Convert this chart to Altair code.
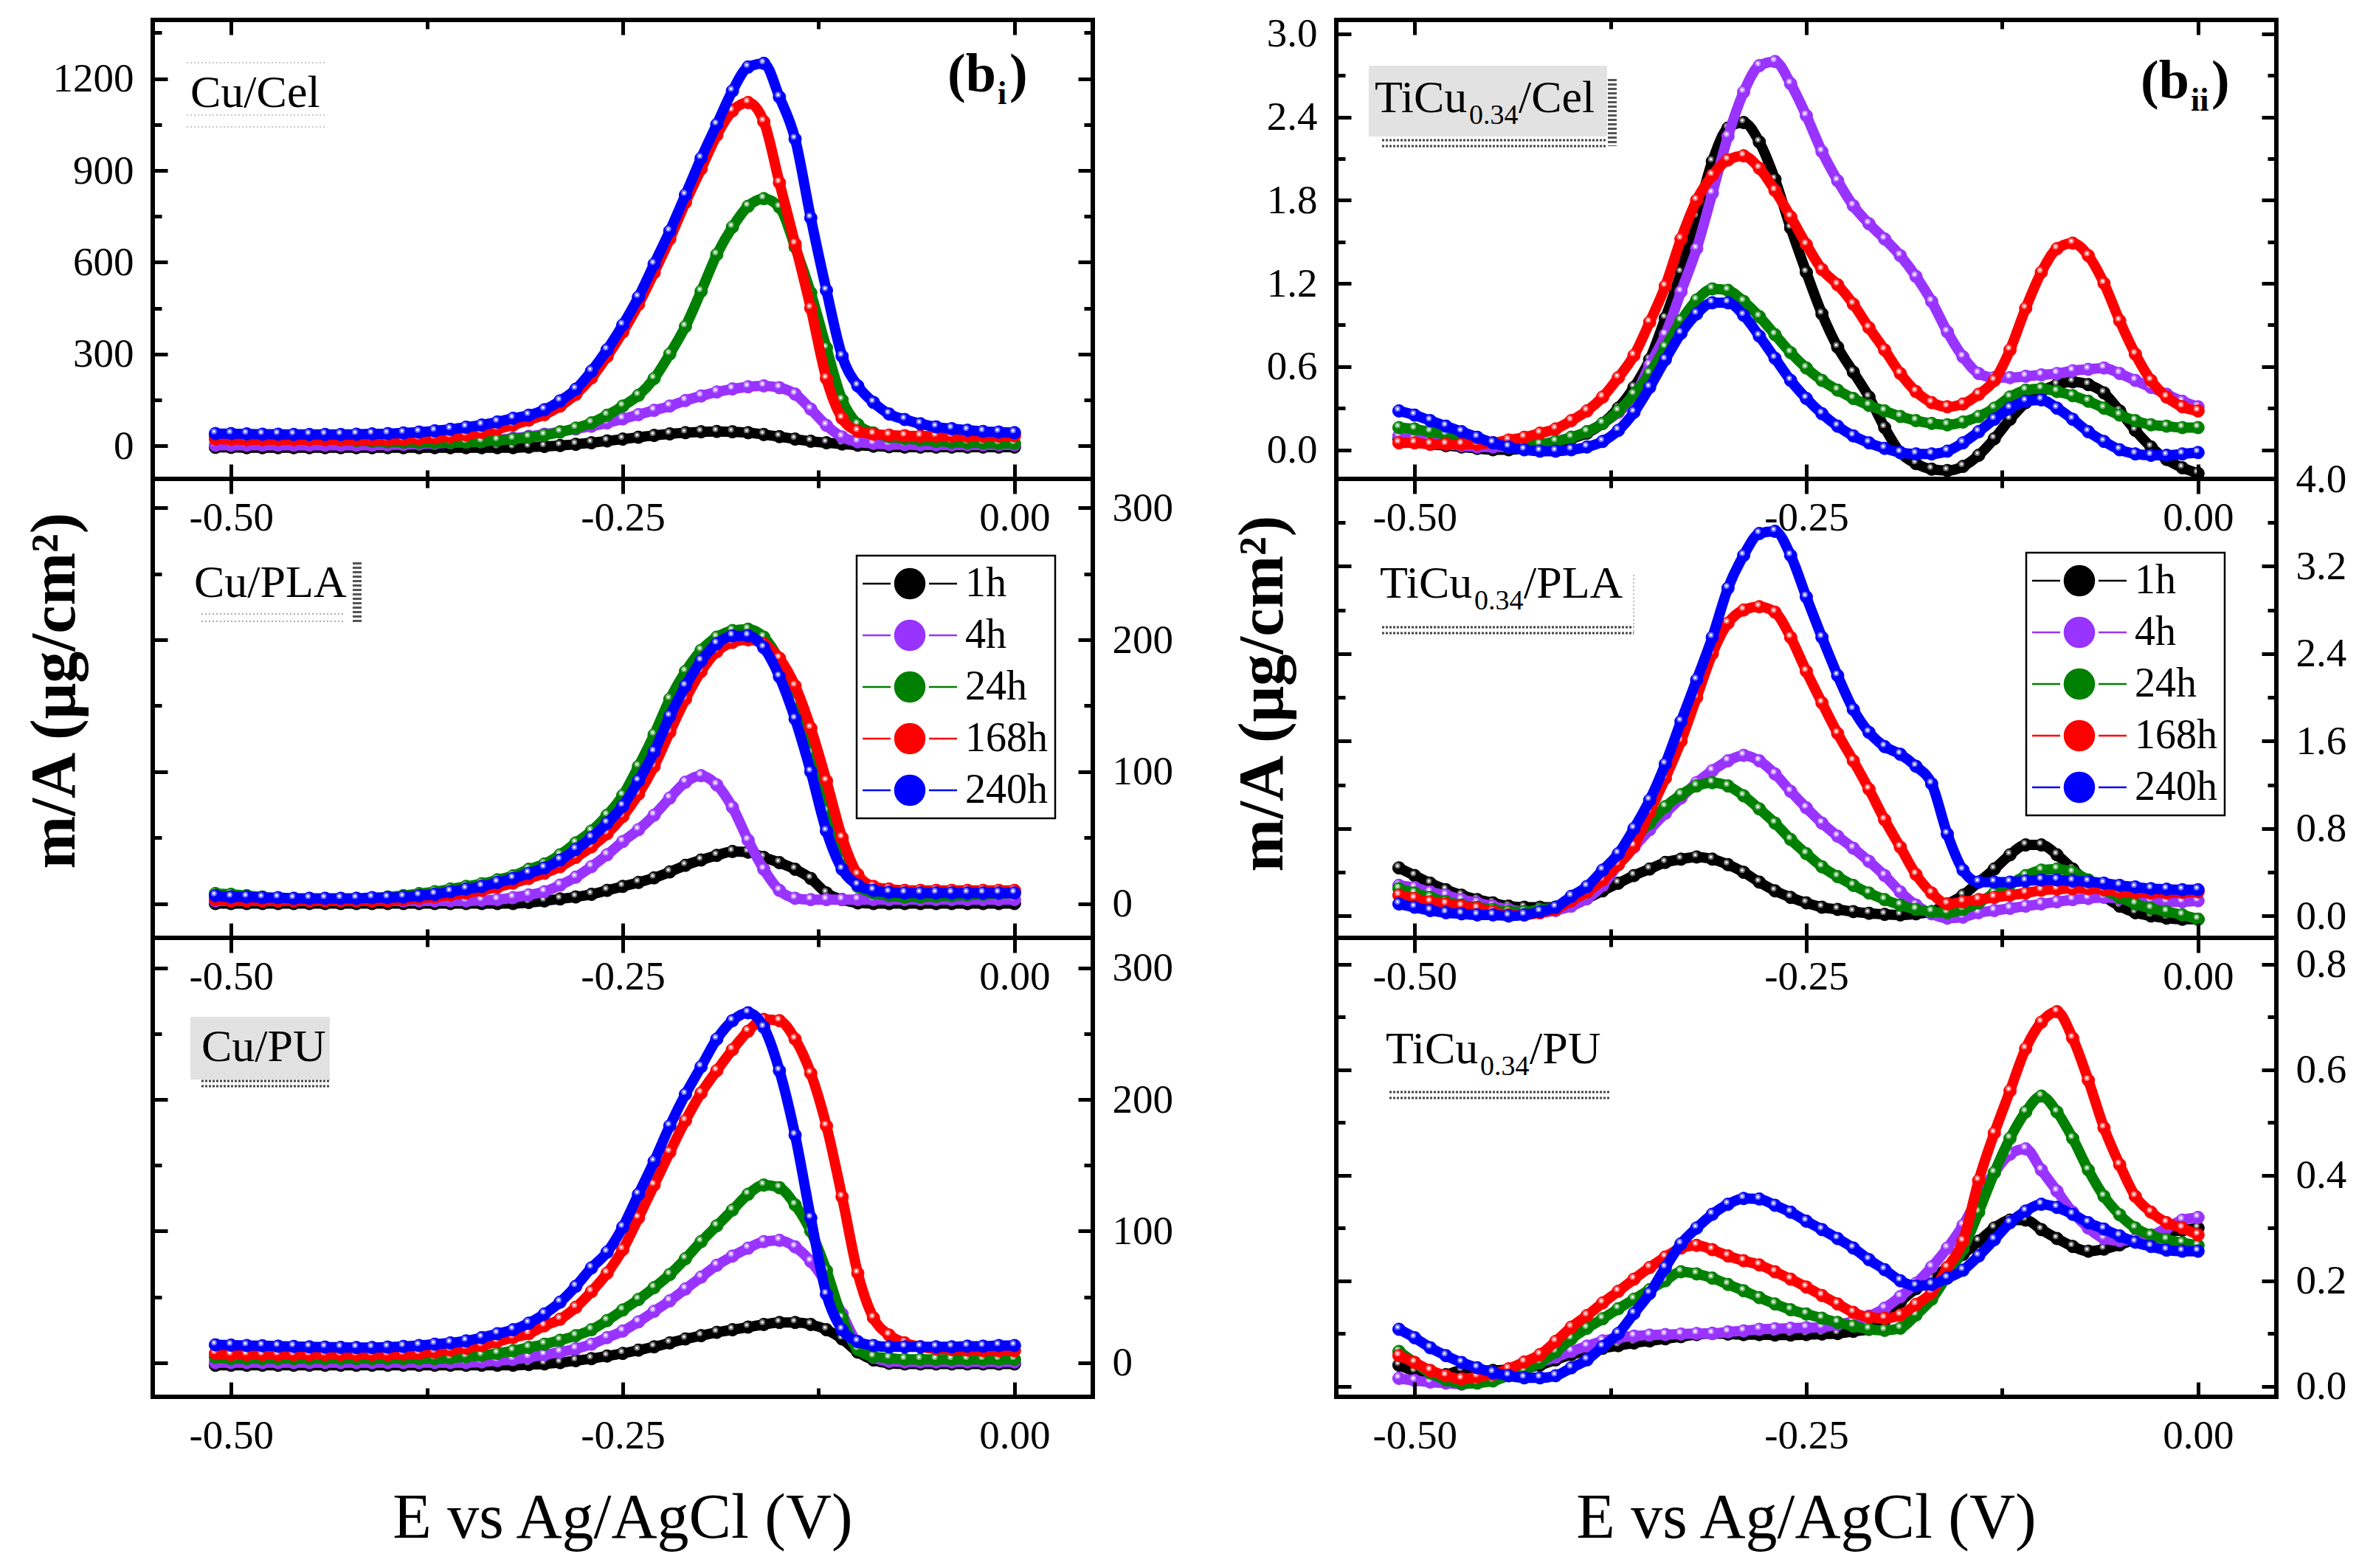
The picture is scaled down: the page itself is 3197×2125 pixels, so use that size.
import altair as alt
import pandas as pd

SERIF = "Liberation Serif"
W, H = 1274, 622

# potential (V vs Ag/AgCl), shared by every series
E = [-0.51, -0.50, -0.49, -0.48, -0.47, -0.46, -0.45, -0.44, -0.43, -0.42, -0.41, -0.40, -0.39,
     -0.38, -0.37, -0.36, -0.35, -0.34, -0.33, -0.32, -0.31, -0.30, -0.29, -0.28, -0.27, -0.26,
     -0.25, -0.24, -0.23, -0.22, -0.21, -0.20, -0.19, -0.18, -0.17, -0.16, -0.15, -0.14, -0.13,
     -0.12, -0.11, -0.10, -0.09, -0.08, -0.07, -0.06, -0.05, -0.04, -0.03, -0.02, -0.01, 0.00]

HOURS = ["1h", "4h", "24h", "168h", "240h"]
COLORS = ["#000000", "#9933ff", "#008000", "#ff0000", "#0000ff"]

# ---- Cu/Cel (ug/cm2)
CU_CEL_1H = [-5, -5, -6, -6, -6, -6, -6, -6, -6, -6, -6, -6, -6,
             -6, -6, -6, -6, -6, -6, -6, -4, -2, 1, 5, 10, 16,
             22, 28, 34, 39, 43, 46, 47, 46, 43, 37, 30, 22, 15,
             10, 6, 2, -1, -3, -4, -4, -4, -4, -4, -4, -4, -4]
CU_CEL_4H = [2, 2, 2, 2, 2, 2, 2, 2, 2, 2, 2, 3, 4,
             6, 8, 10, 13, 16, 20, 25, 31, 38, 46, 55, 64, 75,
             88, 102, 116, 130, 148, 163, 176, 186, 193, 196, 190, 169, 120,
             67, 29, 13, 8, 5, 4, 3, 3, 3, 3, 3, 3, 3]
CU_CEL_24H = [35, 33, 31, 29, 27, 25, 23, 21, 19, 17, 15, 13, 12,
              11, 11, 11, 12, 14, 18, 22, 28, 35, 45, 58, 75, 100,
              130, 165, 220, 300, 390, 505, 625, 715, 783, 808, 780, 650, 500,
              320, 150, 70, 42, 30, 24, 19, 15, 12, 10, 9, 8, 8]
CU_CEL_168H = [22, 21, 20, 20, 20, 20, 20, 20, 20, 20, 20, 20, 21,
               23, 26, 30, 36, 44, 55, 68, 84, 102, 130, 168, 222, 292,
               372, 462, 566, 676, 795, 905, 1015, 1095, 1122, 1060, 860, 660, 450,
               220, 90, 48, 38, 35, 33, 32, 32, 32, 32, 32, 32, 33]
CU_CEL_240H = [40, 40, 39, 38, 38, 37, 37, 37, 37, 38, 39, 40, 42,
               45, 49, 54, 61, 68, 78, 90, 100, 118, 147, 185, 244, 314,
               395, 486, 594, 702, 820, 940, 1050, 1160, 1238, 1250, 1140, 1003, 745,
               508, 293, 196, 142, 104, 86, 72, 62, 56, 51, 47, 45, 43]

# ---- Cu/PLA
CU_PLA_1H = [0, 0, 0, 0, 0, 0, 0, 0, 0, 0, 0, 0, 0,
             0, 0, 0, 0, 0, 0, 0, 0.8, 2, 3.5, 5, 7, 10,
             13, 16, 19.5, 24, 29, 33, 36.5, 39.5, 39, 35, 31, 26, 19,
             8, 3, 0.5, 0, 0, 0, 0, 0, 0, 0, 0, 0, 0]
CU_PLA_4H = [2, 2, 2, 2, 2, 2, 2, 2, 2, 2, 2, 2, 2,
             2, 2, 2, 2, 2.5, 3, 4.5, 6.5, 9, 14, 20, 28, 37,
             47, 56, 67, 80, 92, 97, 90, 73, 48, 26, 10, 4, 3,
             3, 3, 3, 3, 3, 3, 3, 3, 3, 3, 3, 3, 3]
CU_PLA_24H = [7.6, 7, 6, 5, 4, 3.5, 3, 3, 3, 3.5, 4, 5, 6,
              7.5, 9, 11, 13, 15, 18, 21, 26, 30, 37, 46, 55, 67,
              82, 104, 128, 155, 176, 192, 202, 207, 208, 202, 184, 152, 114,
              70, 32, 13, 8, 6, 5, 5, 5.5, 6, 6.5, 7, 7.5, 8]
CU_PLA_168H = [3, 2, 2, 2, 2, 2, 2, 2, 2, 2, 2, 2, 3,
               4, 5, 6.5, 8, 10, 12.5, 15.5, 19, 23, 28, 35, 43, 53,
               66, 83, 104, 130, 155, 176, 191, 198, 200, 197, 186, 165, 133,
               93, 50, 22, 13, 11, 10, 10, 10, 10, 10, 10, 10, 10]
CU_PLA_240H = [6, 5, 5, 4.5, 4.5, 4, 4, 4, 4, 4, 4.5, 4.5, 5,
               6, 7, 9, 11, 13, 16, 19, 23, 27, 33, 41, 50, 61,
               74, 93, 115, 142, 165, 184, 197, 203, 203, 194, 172, 140, 100,
               55, 26, 14, 10, 8.5, 8, 8, 8, 8, 8, 8, 8, 8]

# ---- Cu/PU
CU_PU_1H = [-2, -2, -2, -2, -2, -2, -2, -2, -2, -2, -2, -2, -2,
            -2, -2, -2, -2, -2, -2, -2, -1.5, -1, 0, 1.5, 3, 5,
            7, 9.5, 12, 15, 18, 20.5, 23, 25, 27, 29, 30.5, 30.5, 29,
            25, 18, 8, 2, -0.5, -1, -1, -1, -1, -1, -1, -1, -1]
CU_PU_4H = [0, 0, 0, 0, 0, 0, 0, 0, 0, 0, 0, 0, 0,
            0, 0, 0, 0, 0.5, 1.5, 2.5, 4, 6, 8, 10.5, 14, 19,
            24, 31, 39, 47, 56, 65, 74, 81, 87, 92, 93, 88, 77,
            60, 37, 14, 4, 1, 0.5, 0.5, 0.5, 0.5, 0.5, 0.5, 0.5, 0.5]
CU_PU_24H = [4, 3, 3, 3, 3, 3, 3, 3, 3, 3, 3, 3, 3,
             3, 3, 3.5, 4.5, 5.5, 7, 9, 11.5, 14, 17, 20.5, 25, 32,
             40, 48, 57, 67, 79, 92, 104, 116, 128, 135, 133, 120, 100,
             70, 34, 10, 4.5, 3.5, 2.5, 2.5, 2.5, 2.5, 2.5, 2.5, 2.5, 2.5]
CU_PU_168H = [7, 6, 6, 6, 6, 6, 6, 6, 6, 6, 6, 6, 6.5,
              7, 8, 9.5, 11, 13, 16, 19, 22, 28, 33, 42, 54, 68,
              86, 110, 135, 160, 184, 205, 222, 238, 252, 261, 260, 246, 220,
              180, 126, 68, 34, 21, 15, 12, 10.5, 10, 9.5, 9, 9, 9]
CU_PU_240H = [13.5, 13.3, 13, 12.8, 12.5, 12.3, 12, 11.8, 11.6, 11.5, 11.5, 11.8, 12.3,
              13, 14, 15, 16.5, 19, 22, 25, 30, 37, 46, 58, 72, 84,
              103, 128, 153, 180, 204, 225, 246, 260, 266, 255, 222, 173, 110,
              52, 25, 16, 13, 12, 12, 12, 12, 12, 12.5, 12.5, 13, 13]

# ---- TiCu0.34/Cel
TI_CEL_1H = [0.08, 0.06, 0.04, 0.03, 0.02, 0.01, 0.0, 0.0, 0.01, 0.02, 0.04, 0.08, 0.12,
             0.19, 0.30, 0.45, 0.65, 0.95, 1.28, 1.68, 2.08, 2.32, 2.36, 2.22, 1.95, 1.60,
             1.28, 0.98, 0.74, 0.56, 0.38, 0.16, -0.02, -0.10, -0.14, -0.15, -0.12, -0.04, 0.08,
             0.22, 0.34, 0.42, 0.47, 0.49, 0.47, 0.41, 0.28, 0.14, 0.02, -0.07, -0.13, -0.17]
TI_CEL_4H = [0.10, 0.08, 0.06, 0.04, 0.03, 0.02, 0.02, 0.02, 0.03, 0.04, 0.06, 0.09, 0.13,
             0.19, 0.27, 0.38, 0.61, 0.83, 1.14, 1.45, 1.85, 2.26, 2.58, 2.77, 2.80, 2.64,
             2.41, 2.15, 1.94, 1.76, 1.63, 1.52, 1.40, 1.25, 1.07, 0.85, 0.67, 0.55, 0.52,
             0.52, 0.53, 0.54, 0.55, 0.57, 0.58, 0.59, 0.55, 0.50, 0.45, 0.40, 0.35, 0.31]
TI_CEL_24H = [0.16, 0.15, 0.13, 0.11, 0.09, 0.07, 0.05, 0.03, 0.03, 0.04, 0.06, 0.09, 0.13,
              0.19, 0.28, 0.40, 0.55, 0.74, 0.93, 1.08, 1.16, 1.15, 1.07, 0.96, 0.83, 0.70,
              0.59, 0.50, 0.43, 0.37, 0.32, 0.28, 0.24, 0.21, 0.19, 0.18, 0.20, 0.24, 0.30,
              0.38, 0.43, 0.44, 0.42, 0.39, 0.35, 0.30, 0.25, 0.21, 0.18, 0.17, 0.16, 0.16]
TI_CEL_168H = [0.05, 0.05, 0.04, 0.04, 0.04, 0.04, 0.05, 0.07, 0.09, 0.12, 0.15, 0.21, 0.28,
               0.38, 0.52, 0.68, 0.92, 1.18, 1.52, 1.80, 1.98, 2.09, 2.12, 2.03, 1.87, 1.68,
               1.48, 1.30, 1.19, 1.05, 0.88, 0.72, 0.55, 0.42, 0.34, 0.31, 0.33, 0.40, 0.50,
               0.72, 1.02, 1.28, 1.45, 1.49, 1.40, 1.20, 0.93, 0.69, 0.50, 0.38, 0.31, 0.28]
TI_CEL_240H = [0.28, 0.25, 0.21, 0.17, 0.13, 0.09, 0.05, 0.02, 0.0, -0.01, -0.01, 0.0, 0.02,
               0.06, 0.14, 0.27, 0.45, 0.65, 0.84, 0.98, 1.06, 1.06, 0.97, 0.82, 0.66, 0.50,
               0.37, 0.26, 0.17, 0.10, 0.05, 0.01, -0.02, -0.03, -0.03, -0.01, 0.05, 0.13, 0.22,
               0.30, 0.35, 0.36, 0.30, 0.22, 0.13, 0.06, 0.0, -0.03, -0.04, -0.04, -0.03, -0.02]

# ---- TiCu0.34/PLA
TI_PLA_1H = [0.44, 0.37, 0.30, 0.24, 0.19, 0.15, 0.12, 0.09, 0.08, 0.08, 0.08, 0.11, 0.16,
             0.23, 0.30, 0.37, 0.43, 0.49, 0.52, 0.54, 0.52, 0.47, 0.40, 0.31, 0.23, 0.17,
             0.12, 0.08, 0.06, 0.04, 0.025, 0.015, 0.01, 0.02, 0.04, 0.11, 0.19, 0.31, 0.43,
             0.56, 0.65, 0.65, 0.56, 0.43, 0.30, 0.18, 0.09, 0.03, 0.0, -0.02, -0.03, -0.03]
TI_PLA_4H = [0.28, 0.26, 0.22, 0.19, 0.15, 0.12, 0.09, 0.06, 0.04, 0.03, 0.05, 0.09, 0.16,
             0.28, 0.47, 0.63, 0.79, 0.94, 1.08, 1.22, 1.33, 1.42, 1.47, 1.42, 1.30, 1.14,
             0.99, 0.85, 0.73, 0.62, 0.50, 0.37, 0.22, 0.10, 0.02, -0.02, -0.01, 0.03, 0.05,
             0.07, 0.09, 0.11, 0.13, 0.15, 0.16, 0.17, 0.16, 0.15, 0.14, 0.13, 0.13, 0.14]
TI_PLA_24H = [0.25, 0.21, 0.17, 0.13, 0.10, 0.08, 0.06, 0.04, 0.04, 0.06, 0.08, 0.15, 0.22,
              0.35, 0.53, 0.70, 0.85, 1.00, 1.11, 1.19, 1.22, 1.19, 1.10, 0.98, 0.85, 0.70,
              0.57, 0.45, 0.36, 0.28, 0.21, 0.15, 0.10, 0.06, 0.04, 0.03, 0.06, 0.12, 0.21,
              0.29, 0.37, 0.42, 0.43, 0.40, 0.33, 0.24, 0.17, 0.11, 0.07, 0.04, 0.01, -0.03]
TI_PLA_168H = [0.19, 0.16, 0.13, 0.11, 0.09, 0.07, 0.04, 0.01, 0.01, 0.03, 0.06, 0.14, 0.22,
               0.33, 0.47, 0.64, 0.95, 1.26, 1.60, 2.00, 2.40, 2.68, 2.80, 2.83, 2.78, 2.55,
               2.24, 1.95, 1.67, 1.42, 1.16, 0.88, 0.63, 0.38, 0.21, 0.11, 0.13, 0.15, 0.17,
               0.19, 0.21, 0.235, 0.245, 0.25, 0.25, 0.24, 0.22, 0.215, 0.21, 0.21, 0.215, 0.22]
TI_PLA_240H = [0.11, 0.08, 0.05, 0.03, 0.02, 0.01, 0.01, 0.0, 0.01, 0.04, 0.08, 0.18, 0.27,
               0.42, 0.57, 0.80, 1.06, 1.39, 1.78, 2.16, 2.55, 3.00, 3.30, 3.50, 3.52, 3.30,
               2.92, 2.55, 2.20, 1.89, 1.68, 1.55, 1.48, 1.37, 1.21, 0.75, 0.42, 0.31, 0.31,
               0.31, 0.32, 0.33, 0.33, 0.32, 0.315, 0.30, 0.28, 0.265, 0.25, 0.245, 0.24, 0.24]

# ---- TiCu0.34/PU
TI_PU_1H = [0.04, 0.028, 0.016, 0.022, 0.03, 0.03, 0.03, 0.032, 0.034, 0.04, 0.05, 0.06, 0.066,
            0.072, 0.077, 0.082, 0.086, 0.09, 0.094, 0.098, 0.10, 0.099, 0.098, 0.098, 0.097, 0.097,
            0.098, 0.099, 0.10, 0.104, 0.108, 0.125, 0.16, 0.185, 0.205, 0.225, 0.25, 0.275, 0.30,
            0.315, 0.315, 0.297, 0.28, 0.265, 0.256, 0.26, 0.268, 0.278, 0.286, 0.292, 0.296, 0.30]
TI_PU_4H = [0.015, 0.011, 0.008, 0.006, 0.004, 0.008, 0.014, 0.024, 0.035, 0.045, 0.055, 0.066, 0.076,
            0.086, 0.092, 0.095, 0.097, 0.098, 0.099, 0.10, 0.10, 0.103, 0.105, 0.108, 0.109, 0.110,
            0.111, 0.112, 0.117, 0.123, 0.133, 0.148, 0.17, 0.195, 0.226, 0.262, 0.305, 0.36, 0.405,
            0.44, 0.45, 0.41, 0.37, 0.33, 0.30, 0.28, 0.276, 0.278, 0.285, 0.30, 0.315, 0.32]
TI_PU_24H = [0.066, 0.045, 0.025, 0.012, 0.005, 0.006, 0.01, 0.02, 0.03, 0.045, 0.065, 0.09, 0.11,
             0.128, 0.147, 0.165, 0.183, 0.20, 0.217, 0.213, 0.205, 0.193, 0.181, 0.168, 0.156, 0.145,
             0.137, 0.129, 0.121, 0.114, 0.108, 0.106, 0.11, 0.135, 0.165, 0.21, 0.26, 0.33, 0.405,
             0.47, 0.52, 0.55, 0.52, 0.47, 0.41, 0.36, 0.325, 0.30, 0.286, 0.278, 0.272, 0.267]
TI_PU_168H = [0.058, 0.045, 0.03, 0.02, 0.014, 0.018, 0.023, 0.033, 0.046, 0.06, 0.085, 0.112, 0.134,
              0.158, 0.18, 0.203, 0.225, 0.245, 0.262, 0.267, 0.259, 0.247, 0.238, 0.23, 0.217, 0.203,
              0.188, 0.172, 0.156, 0.14, 0.131, 0.129, 0.135, 0.155, 0.178, 0.225, 0.275, 0.39, 0.48,
              0.56, 0.64, 0.69, 0.71, 0.66, 0.58, 0.49, 0.42, 0.36, 0.33, 0.31, 0.30, 0.287]
TI_PU_240H = [0.108, 0.092, 0.073, 0.058, 0.045, 0.035, 0.026, 0.02, 0.016, 0.016, 0.02, 0.035, 0.05,
              0.075, 0.10, 0.138, 0.176, 0.225, 0.27, 0.30, 0.326, 0.345, 0.356, 0.355, 0.343, 0.33,
              0.313, 0.297, 0.28, 0.262, 0.24, 0.221, 0.20, 0.19, 0.193, 0.205, 0.22, 0.247, 0.278,
              0.31, 0.332, 0.345, 0.339, 0.326, 0.31, 0.298, 0.285, 0.273, 0.265, 0.258, 0.256, 0.256]

X_MAJOR = [-0.5, -0.25, 0.0]
X_MINOR = [-0.375, -0.125]
X_LABEL = "replace(format(datum.value, '.2f'), '\u2212', '-')"

# legend glyph: short line, gap, ball, gap, short line
LEGEND_SYMBOL = "M-3.2,0L-1.3,0M1.3,0L3.2,0M-1,0A1,1,0,1,1,1,0A1,1,0,1,1,-1,0Z"

ONE = pd.DataFrame({"k": [0]})


def to_long(series):
    rows = []
    for hour, ys in zip(HOURS, series):
        assert len(ys) == len(E), (hour, len(ys))
        rows += [{"E": e, "m": y, "time": hour} for e, y in zip(E, ys)]
    return pd.DataFrame(rows)


def ticks(orient, values, size, labels=False, fmt=None, expr=None):
    # inward ticks: pull the axis inside by its tick length
    kw = dict(orient=orient, values=values, tickSize=size, offset=-size, tickWidth=5,
              tickColor="black", domain=False, grid=False, labels=labels, title=None, zindex=1)
    if labels:
        kw.update(labelFont=SERIF, labelFontSize=55, labelColor="black", labelPadding=26,
                  labelFlush=False, labelOverlap=False)
        if fmt:
            kw["format"] = fmt
        if expr:
            kw["labelExpr"] = expr
    return alt.Axis(**kw)


def text(t, x, y, size=62, weight="normal", **kw):
    return alt.Chart(ONE).mark_text(
        text=t, align=kw.pop("align", "left"), baseline=kw.pop("baseline", "alphabetic"),
        font=SERIF, fontSize=size, fontWeight=weight, color="black", **kw
    ).encode(x=alt.value(x), y=alt.value(y))


def hline(x1, x2, y, color="#444444", dash=(3, 2), width=3):
    return alt.Chart(ONE).mark_rule(color=color, strokeDash=list(dash), strokeWidth=width).encode(
        x=alt.value(x1), x2=alt.value(x2), y=alt.value(y))


def vline(x, y1, y2, color="#444444", dash=(3, 3), width=3):
    return alt.Chart(ONE).mark_rule(color=color, strokeDash=list(dash), strokeWidth=width).encode(
        x=alt.value(x), y=alt.value(y1), y2=alt.value(y2))


def box(x1, x2, y1, y2, color="#e2e2e2"):
    return alt.Chart(ONE).mark_rect(color=color).encode(
        x=alt.value(x1), x2=alt.value(x2), y=alt.value(y1), y2=alt.value(y2))


def panel(series, ydom, ymaj, ymin, yfmt, side, extras, legend_xy=None):
    df = to_long(series)
    xs = alt.Scale(domain=[-0.55, 0.05], nice=False, zero=False)
    ys = alt.Scale(domain=ydom, nice=False, zero=False)
    cs = alt.Scale(domain=HOURS, range=COLORS)
    other = "right" if side == "left" else "left"

    leg = None
    if legend_xy:
        leg = alt.Legend(orient="none", legendX=legend_xy[0], legendY=legend_xy[1], title=None,
                         symbolType=LEGEND_SYMBOL, symbolSize=1600, symbolStrokeWidth=2.5,
                         symbolOffset=34, labelOffset=47, labelFont=SERIF, labelFontSize=56,
                         labelColor="black", padding=10, rowPadding=14, strokeColor="black",
                         fillColor="white", labelLimit=400)

    base = alt.Chart(df)

    def X(axis):
        return alt.X("E:Q", scale=xs, axis=axis)

    def Y(axis):
        return alt.Y("m:Q", scale=ys, axis=axis)

    layers = [
        base.mark_point(opacity=0).encode(
            x=X(ticks("bottom", X_MAJOR, 20, True, expr=X_LABEL)),
            y=Y(ticks(side, ymaj, 20, True, fmt=yfmt))),
        base.mark_point(opacity=0).encode(x=X(ticks("top", X_MAJOR, 20)), y=Y(ticks(other, ymaj, 20))),
        base.mark_point(opacity=0).encode(x=X(ticks("bottom", X_MINOR, 12)), y=Y(ticks("left", ymin, 12))),
        base.mark_point(opacity=0).encode(x=X(ticks("top", X_MINOR, 12)), y=Y(ticks("right", ymin, 12))),
    ]
    for hour, color in zip(HOURS, COLORS):
        sub = base.transform_filter(alt.datum.time == hour)
        layers.append(sub.mark_line(color=color, strokeWidth=14, interpolate="monotone").encode(
            x=X(None), y=Y(None)))
        layers.append(sub.mark_circle(size=290, opacity=1, strokeWidth=1).encode(
            x=X(None), y=Y(None),
            fill=alt.Fill("time:N", scale=cs, legend=leg),
            stroke=alt.Stroke("time:N", scale=cs, legend=leg)))
        # glossy highlight on each ball
        layers.append(sub.mark_circle(size=60, color="white", opacity=0.45, xOffset=-2, yOffset=-3).encode(
            x=X(None), y=Y(None)))
        layers.append(sub.mark_circle(size=12, color="white", opacity=0.95, xOffset=-2, yOffset=-3).encode(
            x=X(None), y=Y(None)))
    layers += extras
    return alt.layer(*layers).resolve_axis(x="independent", y="independent").properties(width=W, height=H)


def ticu(x, y, rest):
    return [text("TiCu", x, y), text("0.34", x + 128, y + 16, size=38), text(rest, x + 195, y)]


def bsub(x, y, sub):
    return [text("(b", x, y, size=74, weight="bold"),
            text(sub, x + 68, y + 17, size=44, weight="bold"),
            text(")", x + 72 + 12 * len(sub), y, size=74, weight="bold")]


YTITLE = "m/A (\u03bcg/cm\u00b2)"
XTITLE = "E vs Ag/AgCl (V)"

tl = panel([CU_CEL_1H, CU_CEL_4H, CU_CEL_24H, CU_CEL_168H, CU_CEL_240H],
           [-108, 1392], [0, 300, 600, 900, 1200], [150, 450, 750, 1050, 1350], "d", "left",
           [hline(46, 235, 58, "#c8c8c8", (2, 3), 2), hline(46, 235, 129, "#c8c8c8", (2, 3), 2),
            hline(46, 235, 145, "#c8c8c8", (2, 3), 2),
            text("Cu/Cel", 51, 118)] + bsub(1077, 97, "i"))

ml = panel([CU_PLA_1H, CU_PLA_4H, CU_PLA_24H, CU_PLA_168H, CU_PLA_240H],
           [-26, 322], [0, 100, 200, 300], [50, 150, 250], "d", "right",
           [hline(66, 260, 183, "#aaaaaa", (2, 3), 2), hline(66, 260, 193, "#aaaaaa", (2, 3), 2),
            vline(277, 113, 195, "#555555", (3, 3), 12),
            text("Cu/PLA", 56, 160),
            text(YTITLE, -132, 287, size=86, weight="bold", angle=270, align="center", baseline="middle")],
           legend_xy=(954, 104))

bl = panel([CU_PU_1H, CU_PU_4H, CU_PU_24H, CU_PU_168H, CU_PU_240H],
           [-26, 323], [0, 100, 200, 300], [50, 150, 250], "d", "right",
           [box(51, 240, 107, 192), hline(66, 240, 194), hline(66, 240, 201),
            text("Cu/PU", 66, 167),
            text(XTITLE, W / 2, H + 191, size=86, align="center")])

tr = panel([TI_CEL_1H, TI_CEL_4H, TI_CEL_24H, TI_CEL_168H, TI_CEL_240H],
           [-0.21, 3.1], [0, 0.6, 1.2, 1.8, 2.4, 3.0], [0.3, 0.9, 1.5, 2.1, 2.7], ".1f", "left",
           [box(44, 367, 62, 158), hline(62, 367, 163), hline(62, 367, 171),
            vline(374, 80, 171, "#555555", (3, 3), 12)]
           + ticu(52, 125, "/Cel") + bsub(1090, 106, "ii"))

mr = panel([TI_PLA_1H, TI_PLA_4H, TI_PLA_24H, TI_PLA_168H, TI_PLA_240H],
           [-0.2, 4.0], [0, 0.8, 1.6, 2.4, 3.2, 4.0], [0.4, 1.2, 2.0, 2.8, 3.6], ".1f", "right",
           [hline(62, 403, 201), hline(62, 403, 209), vline(403, 130, 209, "#bbbbbb", (2, 3), 2)]
           + ticu(59, 161, "/PLA")
           + [text(YTITLE, -99, 291, size=86, weight="bold", angle=270, align="center", baseline="middle")],
           legend_xy=(935, 100))

br = panel([TI_PU_1H, TI_PU_4H, TI_PU_24H, TI_PU_168H, TI_PU_240H],
           [-0.02, 0.85], [0, 0.2, 0.4, 0.6, 0.8], [0.1, 0.3, 0.5, 0.7], ".1f", "right",
           [hline(72, 372, 209), hline(72, 372, 217)]
           + ticu(67, 170, "/PU")
           + [text(XTITLE, W / 2, H + 191, size=86, align="center")])

chart = alt.ConcatChart(
    concat=[tl, tr, ml, mr, bl, br], columns=2,
    spacing={"row": 0, "column": 330}, bounds="flush",
).resolve_scale(
    x="independent", y="independent", fill="independent", stroke="independent"
).properties(
    padding={"left": 20, "top": 7, "right": 2, "bottom": 4}, background="white"
).configure_view(
    stroke="black", strokeWidth=6
).configure_legend(strokeWidth=2.5)

chart.save("out.html", embed_options={"renderer": "svg", "actions": False})
